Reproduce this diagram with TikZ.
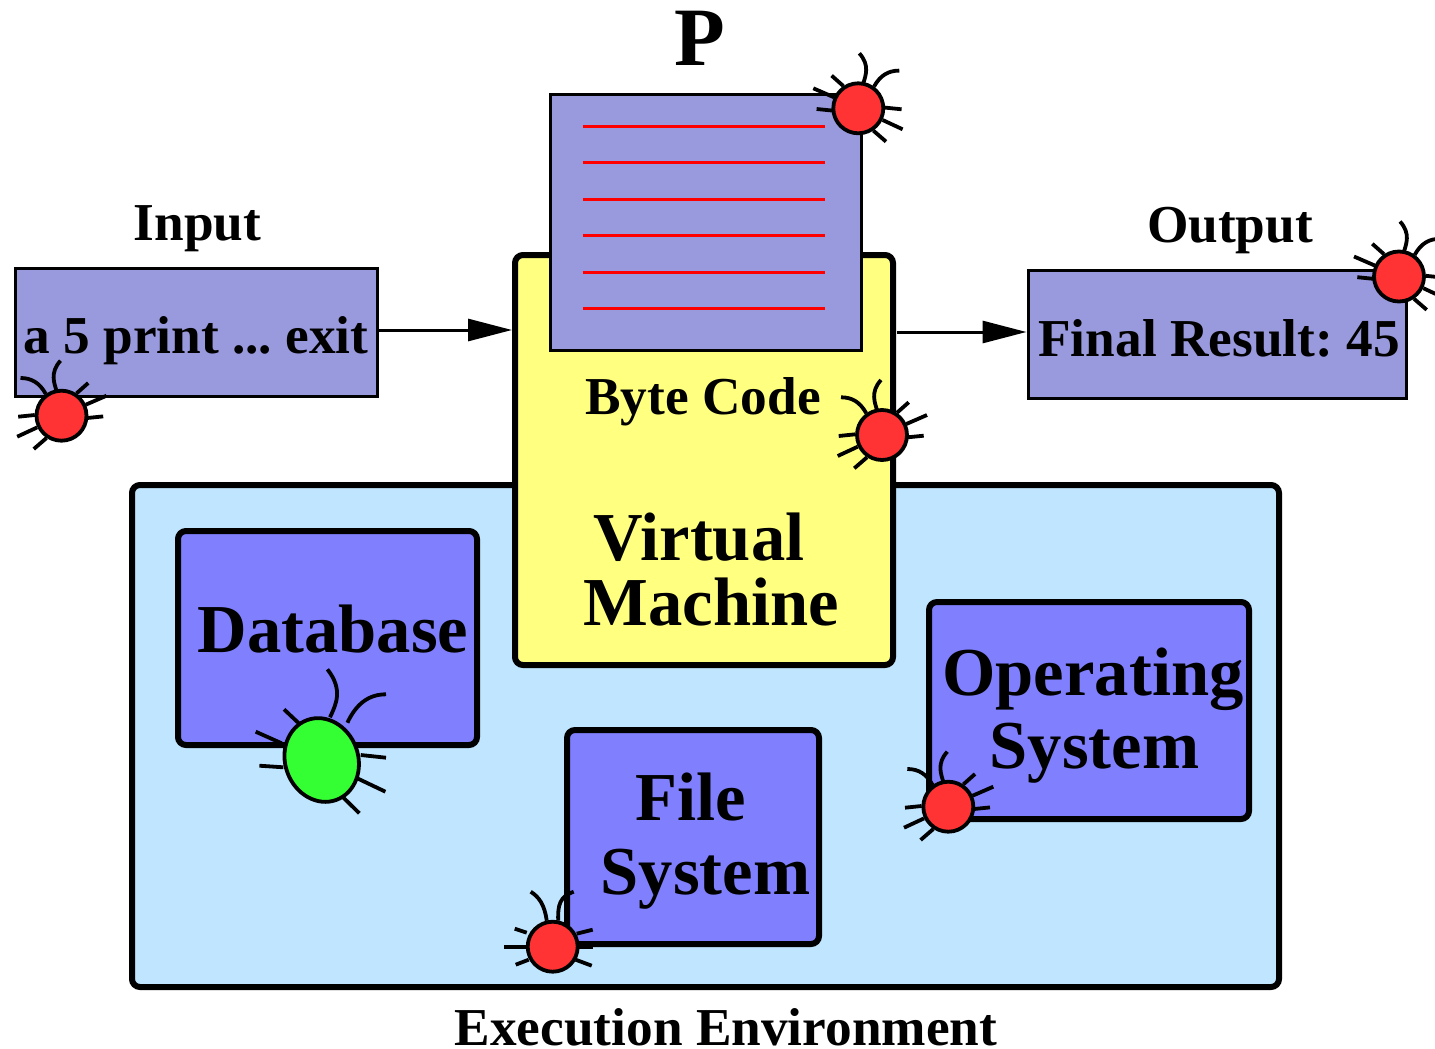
\documentclass[tikz,border=0pt]{standalone}
\usepackage{fontspec}
\setmainfont{Liberation Serif}
\usetikzlibrary{arrows.meta}
\definecolor{paper}{HTML}{9999DD}
\definecolor{machine}{HTML}{FFFF80}
\definecolor{environ}{HTML}{C0E6FF}
\definecolor{resource}{HTML}{8080FF}
\definecolor{bugred}{HTML}{FF3333}
\definecolor{buggreen}{HTML}{33FF33}
\frenchspacing
\newcommand{\drawbug}[3]{
\begin{scope}[shift={(#1,#2)},xscale=#3,line width=3.8pt]
\draw (5,-25) .. controls (7,-32) and (12,-43) .. (1,-55);
\draw (15.7,-21.7) .. controls (22,-33) and (30,-37.7) .. (41,-37.7);
\draw (-15,-22.3) -- (-26.7,-32.7);
\draw (-24.3,-11) -- (-45,-20);
\draw (-25.7,2.3) -- (-41.7,0.7);
\draw (26.7,-0.7) -- (43.3,1);
\draw (24.3,11.7) -- (44.3,21);
\draw (15,22.3) -- (27.7,33.3);
\fill[fill=bugred,draw=black] (0,0) circle (25pt);
\end{scope}}
\begin{document}
\begin{tikzpicture}[x=1pt,y=-1pt,line cap=butt]
\tikzstyle{thinbox}=[draw=black,line width=3pt,fill=paper,inner sep=0pt]
\tikzstyle{roundbox}=[draw=black,line width=6pt,rounded corners=8pt,inner sep=0pt]
\tikzstyle{small}=[anchor=base,inner sep=0pt,font=\fontsize{53.3}{53}\selectfont\bfseries]
\tikzstyle{big}=[anchor=base,inner sep=0pt,font=\fontsize{68.6}{69}\selectfont\bfseries]
\tikzstyle{conn}=[line width=3pt,-{Triangle[length=44pt,width=22pt]}]
\useasboundingbox (0,0) rectangle (1435,1049);
\node[roundbox,fill=environ,minimum width=1147pt,minimum height=502pt] (env) at (705.5,736) {};
\node[roundbox,fill=resource,minimum width=299pt,minimum height=214pt] (db) at (327.5,638) {};
\node[roundbox,fill=resource,minimum width=252pt,minimum height=214pt] (fs) at (693,837) {};
\node[roundbox,fill=resource,minimum width=320pt,minimum height=217pt] (os) at (1089,710.5) {};
\node[roundbox,fill=machine,minimum width=378pt,minimum height=410pt] (vm) at (704,460) {};
\node[thinbox,minimum width=311pt,minimum height=256pt] (code) at (705.5,222) {};
\node[thinbox,minimum width=362pt,minimum height=128pt] (inbox) at (196,332) {};
\node[thinbox,minimum width=378pt,minimum height=128pt] (outbox) at (1217,334) {};
% lines of the program
\foreach \y in {126.5,162.5,199.5,235.5,272.5,308.5}
	\draw[red,line width=3pt] (582.5,\y) -- (824.5,\y);
\draw[conn] ([yshift=2pt]inbox.east) -- ([yshift=2pt]inbox.east -| vm.west);
\draw[conn] ([xshift=1pt,yshift=2pt]vm.east |- outbox.west) -- ([yshift=2pt]outbox.west);
\node[anchor=base,inner sep=0pt,font=\fontsize{83}{83}\selectfont\bfseries] (plabel) at (700,66) {P};
\node[small] (inlabel) at (197.5,240) {Input};
\node[small] (outlabel) at (1230,242) {Output};
\node[small] (intext) at (196,353) {a 5 print ... exit};
\node[small] (outtext) at (1219,356.5) {Final Result: 45};
\node[small] (codelabel) at (703,414) {Byte Code};
\node[small] (envlabel) at (726,1045) {Execution Environment};
\node[big] (vmlabela) at (699,560) {Virtual};
\node[big] (vmlabelb) at (711.5,625) {Machine};
\node[big] (dblabel) at (333,652) {Database};
\node[big] (fslabela) at (691,820) {File};
\node[big] (fslabelb) at (705.5,894) {System};
\node[big] (oslabela) at (1093,695) {Operating};
\node[big] (oslabelb) at (1094.5,768.5) {System};
% bugs
\drawbug{858.3}{108.3}{1}
\drawbug{1399}{276.5}{1}
\drawbug{61.5}{415.7}{-1}
\drawbug{882}{435}{-1}
\drawbug{948.3}{806.7}{-1}
% this one sits straight
\begin{scope}[shift={(552.7,946.7)},line width=3.8pt]
\draw (-6,-26) .. controls (-8,-42) and (-14,-50) .. (-22,-55);
\draw (5.5,-26) .. controls (5,-42) and (7,-50) .. (21,-55);
\draw (-26,-14) -- (-38,-18);
\draw (-25,0) -- (-49,0);
\draw (-24,13) -- (-37,18);
\draw (24,-13) -- (40,-17);
\draw (25,0) -- (40,0);
\draw (23,13) -- (39,19);
\fill[fill=bugred,draw=black] (0,0) circle (25pt);
\end{scope}
% the large one
\begin{scope}[shift={(321.7,760)},line width=3.8pt]
\draw (8.3,-42.7) .. controls (14,-55) and (22,-70) .. (5.7,-90.7);
\draw (25.7,-37.3) .. controls (34,-55) and (46,-65.7) .. (64.3,-65.7);
\draw (-20,-34) -- (-37.7,-50.7);
\draw (-40,-16.7) -- (-66,-28.3);
\draw (-38.3,7.3) -- (-62.3,5.7);
\draw (39,-5) -- (64.3,-2.3);
\draw (34.3,17.7) -- (63.7,31.7);
\draw (20,36) -- (37.7,53.3);
\draw[fill=buggreen,rotate=20] (0,0) ellipse (36.5pt and 42.5pt);
\end{scope}
\end{tikzpicture}
\end{document}
